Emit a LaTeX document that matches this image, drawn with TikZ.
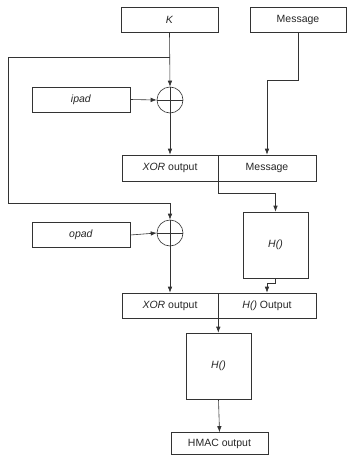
\documentclass[tikz,border=0pt]{standalone}
\usepackage{fontspec}
\setmainfont{Liberation Sans}
\usetikzlibrary{arrows.meta}
\begin{document}
\begin{tikzpicture}[x=1pt,y=-1pt,
  box/.style={draw=black!80, line width=0.6pt, inner sep=0pt, text=black!85, font=\fontsize{10.5}{12}\selectfont},
  xorc/.style={draw=black!80, line width=0.6pt, circle, inner sep=0pt, minimum size=26pt},
  arr/.style={draw=black!80, line width=0.6pt, -{Latex[length=6pt,width=4.5pt]}},
  ln/.style={draw=black!80, line width=0.6pt}]
\useasboundingbox (0,0) rectangle (347,455);
\node[box, minimum width=97pt, minimum height=25pt] (K) at (169.5,19.5) {\textit{K}};
\node[box, minimum width=96pt, minimum height=25pt] (msg) at (298,19.5) {Message};
\node[box, minimum width=98pt, minimum height=25pt] (ipad) at (81,99.5) {\textit{ipad}};
\node[xorc] (x1) at (170,100) {};
\draw[ln] (x1.north) -- (x1.south) (x1.west) -- (x1.east);
\node[box, minimum width=96pt, minimum height=26pt] (xo1) at (170,168) {\textit{XOR} output};
\node[box, minimum width=98pt, minimum height=26pt] (m1) at (267,168) {Message};
\node[box, minimum width=65pt, minimum height=66pt] (H1) at (275.5,245) {\textit{H()}};
\node[box, minimum width=98pt, minimum height=25pt] (opad) at (81,235) {\textit{opad}};
\node[xorc] (x2) at (170,233) {};
\draw[ln] (x2.north) -- (x2.south) (x2.west) -- (x2.east);
\node[box, minimum width=96pt, minimum height=25pt] (xo2) at (170,305.5) {\textit{XOR} output};
\node[box, minimum width=98pt, minimum height=25pt] (ho) at (267,305.5) {\textit{H()} Output};
\node[box, minimum width=65pt, minimum height=66pt] (H2) at (218.5,366) {\textit{H()}};
\node[box, minimum width=97pt, minimum height=22pt] (hmac) at (219.5,443.5) {HMAC output};
\coordinate (fb) at (170,57);
\coordinate (fbL) at (8,57);
\coordinate (fbR) at (170,203);
\draw[arr] (K.south) -- (x1.north);
\draw[arr] (fb) -- (fbL) |- (fbR) -- (x2.north);
\draw[arr] (ipad.east) -- (x1.west);
\draw[arr] (x1.south) -- (xo1.north);
\draw[arr] (msg.south) -- ++(0,48) -| (m1.north);
\draw[arr] (xo1.south east) -- ++(0,12) -| (H1.north);
\draw[arr] (H1.south) -- ++(0,5) -| (ho.north);
\draw[arr] (opad.east) -- (x2.west);
\draw[arr] (x2.south) -- (xo2.north);
\draw[arr] (xo2.south east) -- (xo2.south east |- H2.north);
\draw[arr] (H2.south) -- (hmac.north);
\end{tikzpicture}
\end{document}
